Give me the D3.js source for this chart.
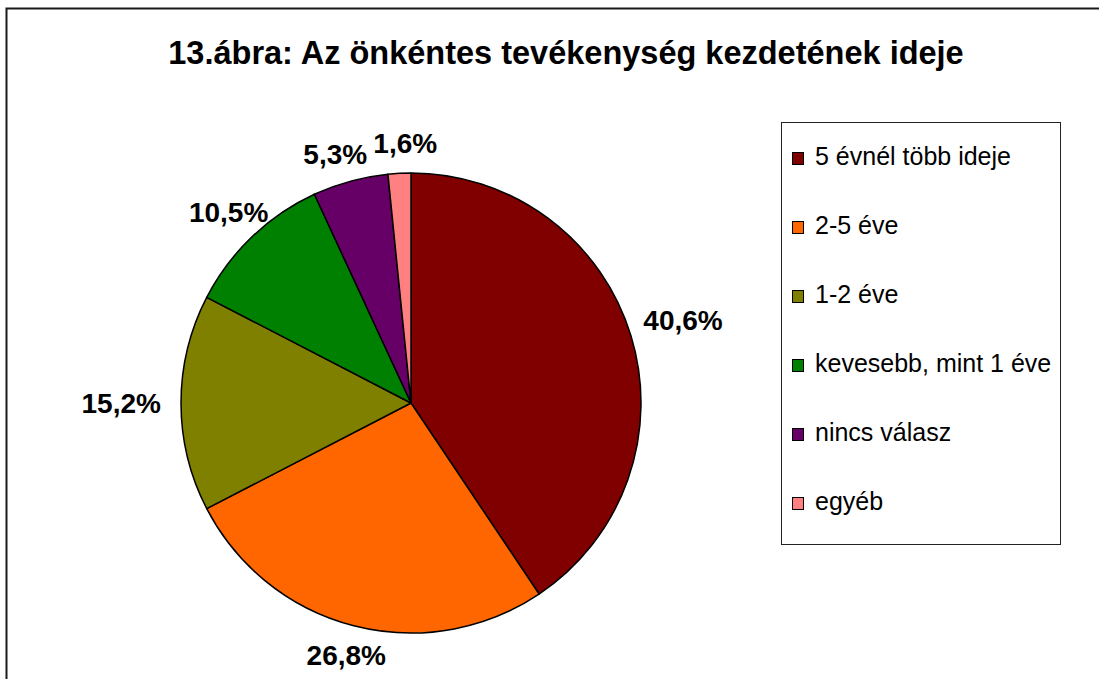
<!DOCTYPE html>
<html>
<head>
<meta charset="utf-8">
<script src="https://cdn.jsdelivr.net/npm/d3@7"></script>
<style>
  body { margin: 0; background: #fff; }
  svg { display: block; font-family: "Liberation Sans", Arial, sans-serif; }
</style>
</head>
<body>
<svg id="chart" width="1099" height="679"></svg>
<script>
// chart data
var categories = ['5 évnél több ideje', '2-5 éve', '1-2 éve', 'kevesebb, mint 1 éve', 'nincs válasz', 'egyéb'];
var values = [40.6, 26.8, 15.2, 10.5, 5.3, 1.6];
var labels = ['40,6%', '26,8%', '15,2%', '10,5%', '5,3%', '1,6%'];
var colors = ['#800000', '#ff6600', '#808000', '#008000', '#660066', '#ff8080'];

var svg = d3.select('#chart');

var data = categories.map(function(c, i) {
  return { name: c, value: values[i], label: labels[i], color: colors[i] };
});

// outer frame (runs off the right and bottom edges)
svg.append('rect')
  .attr('x', 6.5)
  .attr('y', 8.5)
  .attr('width', 1200)
  .attr('height', 800)
  .attr('fill', 'none')
  .attr('stroke', '#1a1a1a')
  .attr('stroke-width', 2);

// title
svg.append('text')
  .attr('x', 566)
  .attr('y', 64)
  .attr('text-anchor', 'middle')
  .attr('font-size', 32.5)
  .attr('font-weight', 'bold')
  .attr('fill', '#000')
  .text('13.ábra: Az önkéntes tevékenység kezdetének ideje');

// pie
var cx = 411, cy = 403, radius = 230, gap = 20;

var pie = d3.pie()
  .sort(null)
  .value(function(d) { return d.value; });

var arc = d3.arc()
  .innerRadius(0)
  .outerRadius(radius);

var g = svg.append('g')
  .attr('transform', 'translate(' + cx + ',' + cy + ')');

var arcs = pie(data);

g.selectAll('path.slice')
  .data(arcs)
  .enter()
  .append('path')
  .attr('class', 'slice')
  .attr('d', arc)
  .attr('fill', function(d) { return d.data.color; })
  .attr('stroke', '#000')
  .attr('stroke-width', 1.5)
  .attr('stroke-linejoin', 'round');

// percentage labels outside the pie
var texts = g.selectAll('text.pct')
  .data(arcs)
  .enter()
  .append('text')
  .attr('class', 'pct')
  .attr('text-anchor', 'middle')
  .attr('dy', '0.36em')
  .attr('font-size', 28)
  .attr('font-weight', 'bold')
  .attr('fill', '#000')
  .text(function(d) { return d.data.label; });

// measure each label, then put its box just outside the rim
var boxes = [];
texts.each(function(d) {
  var bb = this.getBBox();
  boxes.push({ d: d, w: bb.width, h: 20, a: (d.startAngle + d.endAngle) / 2 });
});

function place(b) {
  var s = Math.sin(b.a), c = Math.cos(b.a);
  var ext = Math.min(
    Math.abs(s) > 1e-6 ? (b.w / 2) / Math.abs(s) : Infinity,
    Math.abs(c) > 1e-6 ? (b.h / 2) / Math.abs(c) : Infinity
  );
  var r = radius + gap + ext;
  b.x = s * r;
  b.y = -c * r;
}

boxes.forEach(place);

// nudge neighbours apart when boxes collide
for (var iter = 0; iter < 200; iter++) {
  var moved = false;
  for (var i = 0; i < boxes.length; i++) {
    var p = boxes[i], q = boxes[(i + 1) % boxes.length];
    var ox = (p.w + q.w) / 2 + 6 - Math.abs(p.x - q.x);
    var oy = (p.h + q.h) / 2 + 2 - Math.abs(p.y - q.y);
    if (ox > 0 && oy > 0) {
      p.a -= 0.004;
      q.a += 0.004;
      place(p);
      place(q);
      moved = true;
    }
  }
  if (!moved) break;
}

texts.attr('transform', function(d, i) {
  return 'translate(' + boxes[i].x + ',' + boxes[i].y + ')';
});

// legend
var legendX = 781, legendY = 122.5, legendW = 279, legendH = 422;

svg.append('rect')
  .attr('x', legendX + 0.5)
  .attr('y', legendY)
  .attr('width', legendW)
  .attr('height', legendH)
  .attr('fill', '#fff')
  .attr('stroke', '#222')
  .attr('stroke-width', 1);

var rowY = d3.scalePoint()
  .domain(categories)
  .range([165, 510]);

var items = svg.selectAll('g.legend-item')
  .data(data)
  .enter()
  .append('g')
  .attr('class', 'legend-item')
  .attr('transform', function(d) { return 'translate(' + legendX + ',' + rowY(d.name) + ')'; });

items.append('rect')
  .attr('x', 11.5)
  .attr('y', -12.5)
  .attr('width', 11)
  .attr('height', 12)
  .attr('fill', function(d) { return d.color; })
  .attr('stroke', '#000')
  .attr('stroke-width', 1);

items.append('text')
  .attr('x', 34)
  .attr('y', 0)
  .attr('font-size', 25)
  .attr('fill', '#000')
  .text(function(d) { return d.name; });
</script>
</body>
</html>
